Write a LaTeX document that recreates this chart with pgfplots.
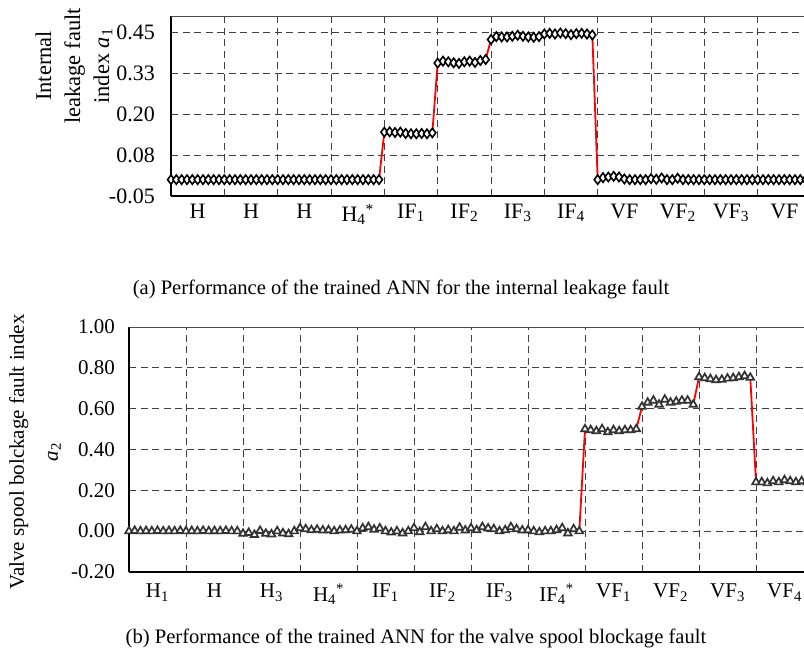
\documentclass[border=0pt]{standalone}
\usepackage{pgfplots}
\pgfplotsset{compat=1.18}
\usepackage{fontspec}
\setmainfont{Liberation Serif}
\begin{document}
\begin{tikzpicture}
\pgfplotsset{
  fault/.style={
    anchor=south west, scale only axis,
    xmin=0, xmax=120,
    xtick={5,15,...,115},
    minor xtick={10,20,...,110},
    xminorgrids=true, ymajorgrids=true,
    major tick length=0pt, minor tick length=0pt,
    grid style={dash pattern=on 7pt off 4.5pt, black!75, line width=0.9pt},
    minor grid style={dash pattern=on 7pt off 4.5pt, black!75, line width=0.9pt},
    axis x line*=bottom, axis y line*=left,
    axis line style={line width=1.5pt, -},
    xticklabel style={inner sep=0pt, anchor=north},
    yticklabel style={inner sep=0pt, anchor=east},
    extra y tick style={grid style={solid, black!70, line width=0.8pt}},
  },
  redline/.style={red, line width=1.8pt},
}
% (a) internal leakage fault index
\begin{axis}[fault, at={(171pt,460pt)}, width=640pt, height=180pt,
  ymin=-0.05, ymax=0.5,
  ytick={-0.05,0.075,0.2,0.325,0.45},
  yticklabels={-0.05,0.08,0.20,0.33,0.45},
  extra y ticks={0.5}, extra y tick labels={},
  font=\fontsize{22}{26}\selectfont,
  xticklabel style={yshift=-8pt},
  yticklabel style={xshift=-16pt},
  xticklabels={H,H,H,H\textsubscript{4}\textsuperscript{*},IF\textsubscript{1},IF\textsubscript{2},IF\textsubscript{3},IF\textsubscript{4},VF,VF\textsubscript{2},VF\textsubscript{3},VF},
]
\addplot[redline, mark=diamond*, mark size=4.6pt,
  mark options={fill=white, draw=black, line width=1.6pt, solid}]
coordinates{
(0,0) (1,0) (2,0) (3,0) (4,0) (5,0) (6,0) (7,0) (8,0) (9,0)
(10,0) (11,0) (12,0) (13,0) (14,0) (15,0) (16,0) (17,0) (18,0) (19,0)
(20,0) (21,0) (22,0) (23,0) (24,0) (25,0) (26,0) (27,0) (28,0) (29,0)
(30,0) (31,0) (32,0) (33,0) (34,0) (35,0) (36,0) (37,0) (38,0) (39,0)
(40,0.145) (41,0.146) (42,0.144) (43,0.145) (44,0.141) (45,0.140) (46,0.140) (47,0.141) (48,0.140) (49,0.143)
(50,0.356) (51,0.362) (52,0.360) (53,0.357) (54,0.355) (55,0.360) (56,0.362) (57,0.358) (58,0.364) (59,0.367)
(60,0.428) (61,0.437) (62,0.436) (63,0.436) (64,0.438) (65,0.441) (66,0.438) (67,0.436) (68,0.435) (69,0.437)
(70,0.445) (71,0.447) (72,0.445) (73,0.448) (74,0.446) (75,0.443) (76,0.446) (77,0.447) (78,0.445) (79,0.442)
(80,0) (81,0.006) (82,0.008) (83,0.010) (84,0.008) (85,0.002) (86,0) (87,0) (88,0) (89,0)
(90,0.003) (91,0.001) (92,0.005) (93,0) (94,0) (95,0.004) (96,0) (97,0) (98,0) (99,0)
(100,0) (101,0) (102,0) (103,0) (104,0) (105,0) (106,0) (107,0) (108,0) (109,0)
(110,0) (111,0) (112,0) (113,0) (114,0) (115,0) (116,0) (117,0) (118,0) (119,0)
};
\end{axis}
% (b) valve spool blockage fault index
\begin{axis}[fault, at={(129pt,84pt)}, width=684pt, height=245pt,
  ymin=-0.2, ymax=1.0,
  ytick={-0.2,0,0.2,0.4,0.6,0.8},
  yticklabels={-0.20,0.00,0.20,0.40,0.60,0.80},
  extra y ticks={1.0}, extra y tick labels={1.00},
  font=\fontsize{21}{25}\selectfont,
  xticklabel style={yshift=-12pt},
  yticklabel style={xshift=-14pt},
  xticklabels={H\textsubscript{1},H,H\textsubscript{3},\raisebox{-5pt}{H\textsubscript{4}\textsuperscript{*}},IF\textsubscript{1},IF\textsubscript{2},IF\textsubscript{3},\raisebox{-5pt}{IF\textsubscript{4}\textsuperscript{*}},VF\textsubscript{1},VF\textsubscript{2},VF\textsubscript{3},VF\textsubscript{4}},
]
\addplot[redline, mark=triangle*, mark size=4.4pt,
  mark options={fill=white, draw=black!80, line width=1.7pt, solid}]
coordinates{
(0,0) (1,0.002) (2,0) (3,0.001) (4,0) (5,0.002) (6,0) (7,0.001) (8,0) (9,0.002)
(10,0) (11,0.001) (12,0) (13,0.002) (14,0) (15,0.001) (16,0) (17,0.002) (18,0) (19,0)
(20,-0.012) (21,-0.008) (22,-0.018) (23,0.002) (24,-0.012) (25,-0.015) (26,0.0) (27,-0.010) (28,-0.014) (29,0.0)
(30,0.015) (31,0.010) (32,0.005) (33,0.008) (34,0.004) (35,0.005) (36,0.0) (37,0.004) (38,0.005) (39,0.008)
(40,0.0) (41,0.014) (42,0.020) (43,0.008) (44,0.014) (45,0.0) (46,-0.006) (47,0.0) (48,-0.010) (49,0.0)
(50,0.015) (51,-0.004) (52,0.020) (53,0.0) (54,0.010) (55,0.0) (56,0.006) (57,0.0) (58,0.018) (59,0.004)
(60,0.015) (61,0.005) (62,0.020) (63,0.014) (64,0.010) (65,0.0) (66,0.005) (67,0.020) (68,0.010) (69,0.004)
(70,0.005) (71,0.0) (72,-0.005) (73,0.0) (74,0.0) (75,0.005) (76,0.015) (77,-0.010) (78,0.010) (79,0.0)
(80,0.500) (81,0.495) (82,0.490) (83,0.500) (84,0.485) (85,0.495) (86,0.490) (87,0.495) (88,0.495) (89,0.500)
(90,0.610) (91,0.630) (92,0.640) (93,0.620) (94,0.645) (95,0.630) (96,0.635) (97,0.640) (98,0.640) (99,0.620)
(100,0.755) (101,0.750) (102,0.745) (103,0.740) (104,0.742) (105,0.748) (106,0.750) (107,0.755) (108,0.760) (109,0.752)
(110,0.240) (111,0.240) (112,0.235) (113,0.245) (114,0.240) (115,0.250) (116,0.245) (117,0.240) (118,0.245) (119,0.240)
};
\end{axis}
% axis titles and captions
\node[rotate=90, align=center, font=\fontsize{22.5}{29}\selectfont]
  at (74pt,590pt) {Internal\\leakage fault\\index \textit{a}\textsubscript{1}};
\node[rotate=90, align=center, font=\fontsize{21}{34}\selectfont]
  at (35pt,204pt) {Valve spool bolckage fault index\\\textit{a}\textsubscript{2}};
\node[font=\fontsize{20.6}{24}\selectfont] at (401pt,367pt)
  {(a) Performance of the trained ANN for the internal leakage fault};
\node[font=\fontsize{20.6}{24}\selectfont] at (416pt,18pt)
  {(b) Performance of the trained ANN for the valve spool blockage fault};
\pgfresetboundingbox
\useasboundingbox (0pt,0pt) rectangle (804pt,656pt);
\end{tikzpicture}
\end{document}
